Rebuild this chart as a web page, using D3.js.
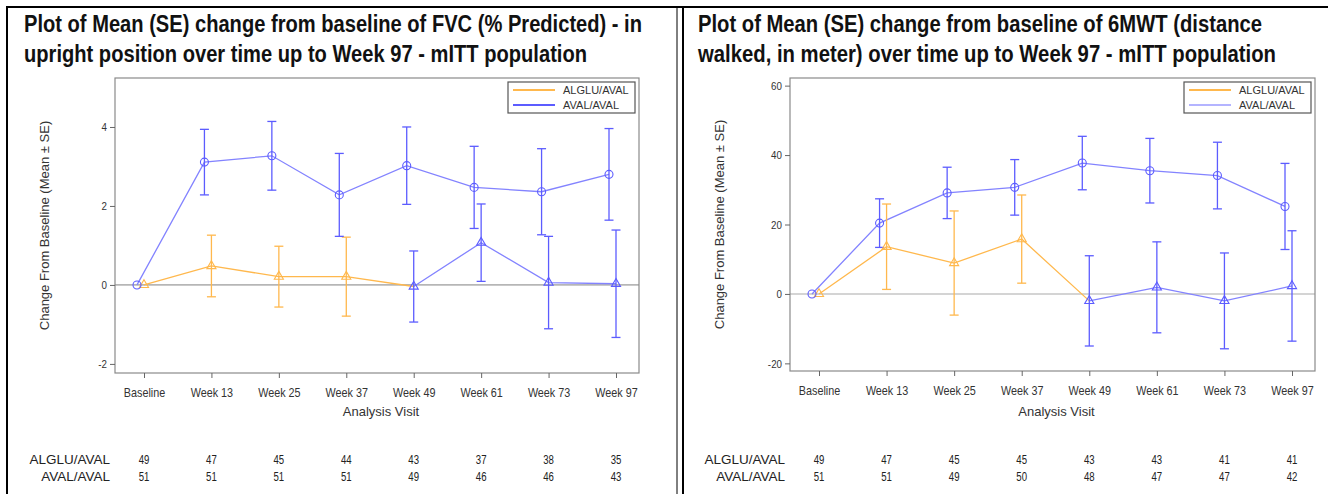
<!DOCTYPE html>
<html><head><meta charset="utf-8">
<script src="https://cdn.jsdelivr.net/npm/d3@7"></script>
<style>
body{margin:0;background:#fff}
svg{display:block}
text{font-family:"Liberation Sans",Arial,Helvetica,sans-serif}
</style>
</head><body>
<svg id="chart" width="1328" height="494"></svg>
<script>
// ---------------- DATA ----------------
const visits = ["Baseline","Week 13","Week 25","Week 37","Week 49","Week 61","Week 73","Week 97"];
const groups = ["ALGLU/AVAL","AVAL/AVAL"];
const switchVisit = "Week 49"; // ALGLU group shown as AVAL from this visit on

// FVC (% predicted)
const fvcTitle = ["Plot of Mean (SE) change from baseline of FVC (% Predicted) - in",
                  "upright position over time up to Week 97 - mITT population"];
const fvcAlgluMean = [0, 0.48, 0.21, 0.21, -0.04, 1.07, 0.06, 0.03];
const fvcAlgluSE   = [0, 0.78, 0.77, 1.00, 0.90, 0.98, 1.17, 1.36];
const fvcAvalMean  = [0, 3.11, 3.27, 2.28, 3.02, 2.47, 2.36, 2.80];
const fvcAvalSE    = [0, 0.83, 0.87, 1.05, 0.98, 1.04, 1.09, 1.16];
const fvcYTicks    = [-2, 0, 2, 4];
const fvcNAlglu    = [49, 47, 45, 44, 43, 37, 38, 35];
const fvcNAval     = [51, 51, 51, 51, 49, 46, 46, 43];

// 6MWT (meters)
const walkTitle = ["Plot of Mean (SE) change from baseline of 6MWT (distance",
                   "walked, in meter) over time up to Week 97 - mITT population"];
const walkAlgluMean = [0, 13.6, 8.9, 15.8, -2.0, 1.9, -2.0, 2.3];
const walkAlgluSE   = [0, 12.3, 15.0, 12.7, 13.0, 13.1, 13.8, 15.9];
const walkAvalMean  = [0, 20.4, 29.1, 30.7, 37.7, 35.5, 34.1, 25.2];
const walkAvalSE    = [0, 7.0, 7.4, 8.0, 7.7, 9.3, 9.6, 12.4];
const walkYTicks    = [-20, 0, 20, 40, 60];
const walkNAlglu    = [49, 47, 45, 45, 43, 43, 41, 41];
const walkNAval     = [51, 51, 49, 50, 48, 47, 47, 42];

const xLabel = "Analysis Visit";
const yLabel = "Change From Baseline (Mean \u00B1 SE)";

// ---------------- STYLE ----------------
const ORANGE = "#FFB84D";
const BLUE = "#5C5CFF";
const BLUE_LINE = "#8383FF";

const svg = d3.select("#chart");

function squeeze(sel, f){
  sel.each(function(){
    const L = this.getComputedTextLength();
    if (L > 0) d3.select(this).attr("textLength", L*f).attr("lengthAdjust","spacingAndGlyphs");
  });
}

// outer panel borders
svg.append("line").attr("x1",7).attr("x2",1328).attr("y1",7).attr("y2",7).attr("stroke","#000").attr("stroke-width",2);
svg.append("line").attr("x1",7).attr("x2",7).attr("y1",6).attr("y2",494).attr("stroke","#000").attr("stroke-width",2);
svg.append("line").attr("x1",677).attr("x2",677).attr("y1",7).attr("y2",494).attr("stroke","#000").attr("stroke-width",1);
svg.append("line").attr("x1",683).attr("x2",683).attr("y1",7).attr("y2",494).attr("stroke","#000").attr("stroke-width",2);

const panels = [
  {title: fvcTitle, tx: 24, tw: [618, 563], px: 115, py: 78, pw: 524, ph: 295,
   yDomain: [-2.23, 5.24], yTicks: fvcYTicks,
   alglu: {mean: fvcAlgluMean, se: fvcAlgluSE}, aval: {mean: fvcAvalMean, se: fvcAvalSE},
   nAlglu: fvcNAlglu, nAval: fvcNAval,
   zeroColor: "#808080", zeroWidth: 1, legendAval: "#5C5CFF"},
  {title: walkTitle, tx: 698, tw: [564, 578], px: 790, py: 78, pw: 525, ph: 293,
   yDomain: [-22.2, 62.2], yTicks: walkYTicks,
   alglu: {mean: walkAlgluMean, se: walkAlgluSE}, aval: {mean: walkAvalMean, se: walkAvalSE},
   nAlglu: walkNAlglu, nAval: walkNAval,
   zeroColor: "#D4D4D4", zeroWidth: 2, legendAval: "#B4B4FF"}
];

panels.forEach(p => {
  // title (condensed bold look: smaller font, stretched vertically)
  p.title.forEach((t, i) => {
    svg.append("g").attr("transform", `translate(${p.tx},${32 + i*30}) scale(1,1.23)`)
      .append("text").attr("x", 0).attr("y", 0)
      .attr("font-size", 19.5).attr("font-weight", "bold").attr("fill", "#111")
      .attr("textLength", p.tw[i]).attr("lengthAdjust", "spacingAndGlyphs")
      .text(t);
  });

  const g = svg.append("g").attr("transform", `translate(${p.px},${p.py})`);
  const x = d3.scalePoint().domain(visits).range([29, p.pw - 23]);
  const y = d3.scaleLinear().domain(p.yDomain).range([p.ph, 0]);
  const OFF = -7; // AVAL/AVAL cluster offset

  // zero line
  g.append("line").attr("x1", 0).attr("x2", p.pw).attr("y1", y(0)).attr("y2", y(0))
    .attr("stroke", p.zeroColor).attr("stroke-width", p.zeroWidth);

  // frame
  g.append("rect").attr("x", 0).attr("y", 0).attr("width", p.pw).attr("height", p.ph)
    .attr("fill", "none").attr("stroke", "#8a8a8a").attr("stroke-width", 1.2);

  // axes
  const ya = g.append("g").call(d3.axisLeft(y).tickValues(p.yTicks).tickSize(5).tickPadding(3)
    .tickFormat(d => String(d)));
  const xa = g.append("g").attr("transform", `translate(0,${p.ph})`)
    .call(d3.axisBottom(x).tickSize(5).tickPadding(10));
  [ya, xa].forEach(a => {
    a.select(".domain").remove();
    a.selectAll(".tick line").attr("stroke", "#666");
    a.selectAll(".tick text").attr("fill", "#333").style("font-family", '"Liberation Sans",Arial,sans-serif');
  });
  ya.selectAll(".tick text").attr("font-size", 11.5);
  xa.selectAll(".tick text").attr("font-size", 13);
  squeeze(ya.selectAll(".tick text"), 0.85);
  squeeze(xa.selectAll(".tick text"), 0.83);

  // axis labels
  g.append("text").attr("x", p.pw/2 + 4).attr("y", 338).attr("text-anchor", "middle")
    .attr("font-size", 13).attr("fill", "#333").text(xLabel);
  g.append("text").attr("transform", `translate(-66,${p.ph/2}) rotate(-90)`)
    .attr("text-anchor", "middle").attr("font-size", 13).attr("fill", "#333").text(yLabel);

  // series data
  const sw = visits.indexOf(switchVisit);
  const avalPts = visits.map((v, i) => ({v, m: p.aval.mean[i], s: p.aval.se[i], dx: OFF, c: BLUE}));
  const algluPts = visits.map((v, i) => ({v, m: p.alglu.mean[i], s: p.alglu.se[i], dx: 0, c: i >= sw ? BLUE : ORANGE}));

  const line = d3.line().x(d => x(d.v) + d.dx).y(d => y(d.m));
  g.append("path").attr("d", line(algluPts.slice(0, sw + 1))).attr("fill", "none").attr("stroke", ORANGE).attr("stroke-width", 1.3);
  g.append("path").attr("d", line(algluPts.slice(sw))).attr("fill", "none").attr("stroke", BLUE_LINE).attr("stroke-width", 1.3);
  g.append("path").attr("d", line(avalPts)).attr("fill", "none").attr("stroke", BLUE_LINE).attr("stroke-width", 1.3);

  // error bars
  const bars = [...algluPts, ...avalPts].filter(d => d.s > 0);
  const eb = g.selectAll(".eb").data(bars).join("g").attr("stroke", d => d.c).attr("stroke-width", 1.3);
  eb.append("line").attr("x1", d => x(d.v) + d.dx).attr("x2", d => x(d.v) + d.dx)
    .attr("y1", d => y(d.m - d.s)).attr("y2", d => y(d.m + d.s));
  eb.append("line").attr("x1", d => x(d.v) + d.dx - 4.5).attr("x2", d => x(d.v) + d.dx + 4.5)
    .attr("y1", d => y(d.m + d.s)).attr("y2", d => y(d.m + d.s));
  eb.append("line").attr("x1", d => x(d.v) + d.dx - 4.5).attr("x2", d => x(d.v) + d.dx + 4.5)
    .attr("y1", d => y(d.m - d.s)).attr("y2", d => y(d.m - d.s));

  // markers
  g.selectAll(".tri").data(algluPts).join("path")
    .attr("transform", d => `translate(${x(d.v) + d.dx},${y(d.m)})`)
    .attr("d", d3.symbol(d3.symbolTriangle, 36)()).attr("fill", "none")
    .attr("stroke", d => d.c).attr("stroke-width", 1.1);
  g.selectAll(".circ").data(avalPts).join("circle")
    .attr("cx", d => x(d.v) + d.dx).attr("cy", d => y(d.m)).attr("r", 4)
    .attr("fill", "none").attr("stroke", BLUE).attr("stroke-width", 1.1);

  // legend
  const lg = g.append("g").attr("transform", `translate(${p.pw - 131},4)`);
  lg.append("rect").attr("width", 127).attr("height", 31).attr("fill", "#fff")
    .attr("stroke", "#555").attr("stroke-width", 1.2);
  const legendColors = [ORANGE, p.legendAval];
  groups.forEach((gr, i) => {
    lg.append("line").attr("x1", 5).attr("x2", 47).attr("y1", 8 + i*15).attr("y2", 8 + i*15)
      .attr("stroke", legendColors[i]).attr("stroke-width", 2);
    lg.append("text").attr("x", 55).attr("y", 12 + i*15).attr("font-size", 11).attr("fill", "#333").text(gr);
  });

  // N table
  const tableRows = [p.nAlglu, p.nAval];
  tableRows.forEach((row, r) => {
    svg.append("text").attr("x", p.px - 5).attr("y", 464 + r*17).attr("text-anchor", "end")
      .attr("font-size", 13.5).attr("fill", "#222").text(groups[r]);
    const nums = svg.append("g").selectAll("text").data(row).join("text")
      .attr("x", (d, i) => p.px + x(visits[i])).attr("y", 464 + r*17)
      .attr("text-anchor", "middle").attr("font-size", 12).attr("fill", "#222").text(d => d);
    squeeze(nums, 0.8);
  });
});
</script>
</body></html>
